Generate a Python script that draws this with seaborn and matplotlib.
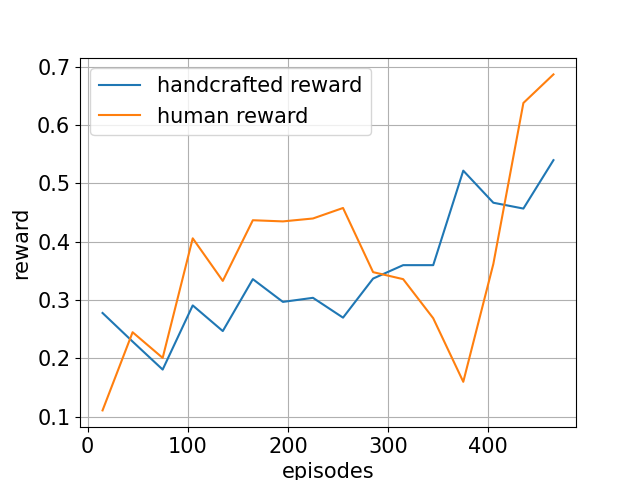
import pandas as pd
import matplotlib
matplotlib.use('Agg')
import matplotlib.pyplot as plt
import seaborn as sns

# episode positions and rewards
episodes = [15, 45, 75, 105, 135, 165, 195, 225, 255, 285, 315, 345, 375, 405, 435, 465]
handcrafted = [0.278, 0.229, 0.181, 0.291, 0.247, 0.336, 0.297, 0.304,
               0.270, 0.337, 0.360, 0.360, 0.522, 0.467, 0.457, 0.540]
human = [0.111, 0.245, 0.201, 0.406, 0.333, 0.437, 0.435, 0.440,
         0.458, 0.348, 0.336, 0.269, 0.160, 0.362, 0.638, 0.687]

df = pd.DataFrame({'episodes': episodes, 'handcrafted reward': handcrafted, 'human reward': human})

plt.rcParams['font.size'] = 15
fig, ax = plt.subplots(figsize=(6.4, 4.8), dpi=100)

sns.lineplot(data=df, x='episodes', y='handcrafted reward', ax=ax, label='handcrafted reward', color='#1f77b4')
sns.lineplot(data=df, x='episodes', y='human reward', ax=ax, label='human reward', color='#ff7f0e')

ax.set_xlabel('episodes')
ax.set_ylabel('reward')
ax.grid(True)
ax.legend(loc='upper left')

fig.savefig('out.png')
